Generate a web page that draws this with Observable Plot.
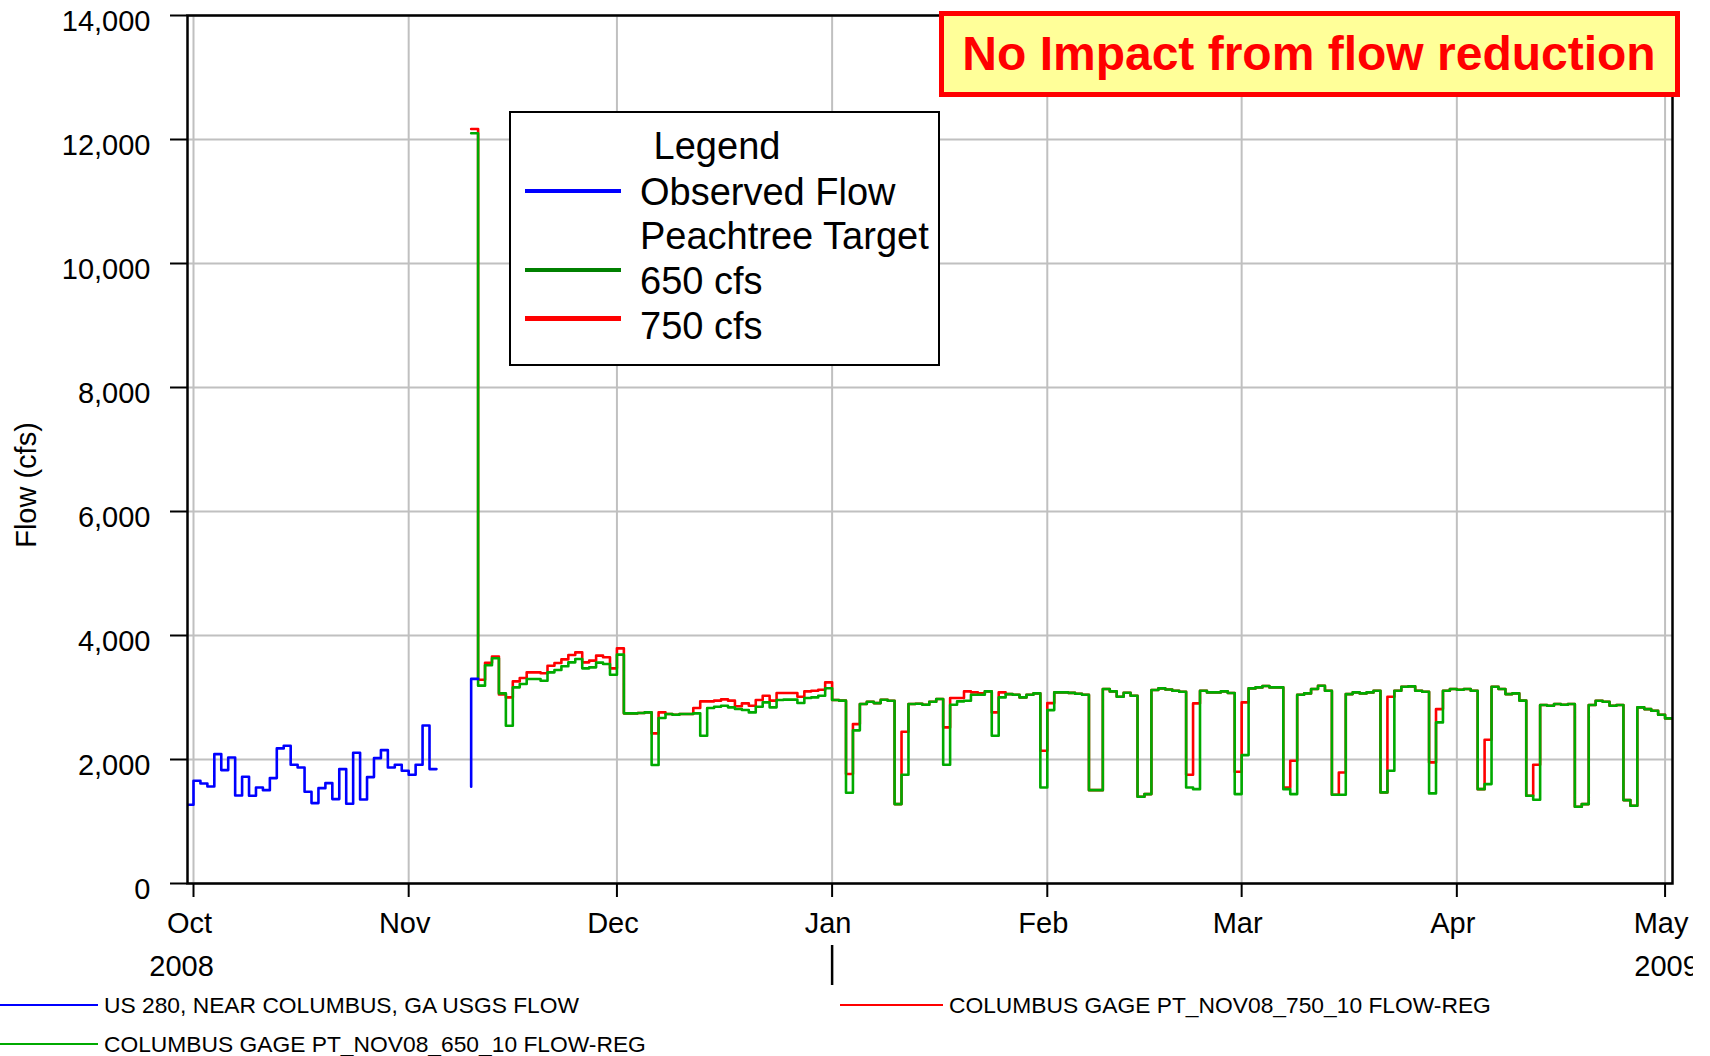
<!DOCTYPE html>
<html>
<head>
<meta charset="utf-8">
<script src="https://cdn.jsdelivr.net/npm/d3@7"></script>
<script src="https://cdn.jsdelivr.net/npm/@observablehq/plot@0.6"></script>
<style>
  body { margin: 0; background: #fff; font-family: "Liberation Sans", Arial, sans-serif; }
  #wrap { position: relative; width: 1710px; height: 1056px; overflow: hidden; background: #fff; }
  #chart { position: absolute; left: 0; top: 0; }
</style>
</head>
<body>
<div id="wrap">
  <div id="chart"></div>
</div>
<script>
// ---------- data ----------
const monthTicks = ["2008-10-01","2008-11-01","2008-12-01","2009-01-01","2009-02-01","2009-03-01","2009-04-01","2009-05-01"];
const xDomain = ["2008-09-30T03:15:00Z", "2009-05-02T01:40:00Z"];
const yearBreak = ["2009-01-01"];
const yTicks = [0, 2000, 4000, 6000, 8000, 10000, 12000, 14000];

// daily values, each dated at the end of its day (drawn as steps)
const observedStart = "2008-09-30";
const observed = [1270, 1270, 1657, 1614, 1565, 2087, 1829, 2033, 1420, 1721, 1415, 1549, 1506, 1700, 2179, 2222, 1915, 1872, 1479, 1297, 1538, 1619, 1361, 1845, 1286, 2109, 1356, 1716, 2022, 2152, 1872, 1915, 1818, 1753, 1915, 2549, 1845];
const observedLateStart = "2008-11-10";
const observedLate = [1560, 3300];

const modelStart = "2008-11-10";
const target650 = [12100, 12100,
3191, 3520, 3632, 3067, 2545, 3164, 3217, 3298, 3298, 3271,
3406, 3443, 3503, 3567, 3621, 3470, 3486, 3562, 3540, 3368,
3691, 2744, 2744, 2750, 2760, 1911, 2669, 2733, 2722, 2733,
2733, 2744, 2384, 2830, 2852, 2868, 2841, 2814, 2798, 2760,
2852, 2921, 2841, 2960, 2965, 2965, 2911, 2992, 3002, 3029,
3148, 2960, 2949, 1463, 2470, 2894, 2932, 2910, 2964, 2948,
1281, 1754, 2894, 2900, 2883, 2931, 2975, 1915, 2883, 2937,
2948, 3045, 3045, 3098, 2383, 3002, 3055, 3045, 3002, 3045,
3066, 1549, 2797, 3082, 3082, 3075, 3060, 3045, 1506, 1506,
3136, 3098, 3012, 3077, 3028, 1399, 1442, 3120, 3147, 3130,
3109, 3093, 1549, 1522, 3109, 3082, 3082, 3098, 3072, 1442,
2071, 3147, 3163, 3185, 3163, 3163, 1522, 1442, 3045, 3066,
3136, 3190, 3109, 1431, 1431, 3055, 3082, 3066, 3082, 3109,
1469, 1818, 3109, 3173, 3179, 3109, 3093, 1453, 2598, 3109,
3136, 3125, 3136, 3109, 1522, 1603, 3173, 3136, 3055, 3066,
2950, 1415, 1350, 2878, 2867, 2894, 2883, 2894, 1237, 1281,
2878, 2948, 2932, 2867, 2880, 1345, 1254, 2840, 2813, 2786,
2722, 2663];
const target750 = [12170, 12170,
3287, 3560, 3660, 3050, 3002, 3260, 3314, 3406, 3406, 3390,
3513, 3556, 3615, 3685, 3728, 3567, 3594, 3675, 3648, 3470,
3793, 2744, 2744, 2750, 2760, 2421, 2760, 2733, 2722, 2733,
2733, 2830, 2938, 2938, 2949, 2970, 2949, 2858, 2906, 2868,
2960, 3029, 2949, 3073, 3073, 3073, 3013, 3099, 3110, 3126,
3244, 2960, 2949, 1765, 2571, 2894, 2932, 2910, 2964, 2948,
1281, 2448, 2894, 2900, 2883, 2931, 2975, 2518, 2991, 2991,
3098, 3082, 3066, 3098, 2760, 3082, 3055, 3045, 3002, 3045,
3066, 2141, 2910, 3082, 3082, 3075, 3060, 3045, 1506, 1506,
3136, 3098, 3012, 3077, 3028, 1399, 1442, 3120, 3147, 3130,
3109, 3093, 1754, 2905, 3109, 3082, 3082, 3098, 3072, 1802,
2921, 3147, 3163, 3185, 3163, 3163, 1549, 1980, 3045, 3066,
3136, 3190, 3109, 1431, 1791, 3055, 3082, 3066, 3082, 3109,
1469, 3012, 3109, 3173, 3179, 3109, 3093, 1953, 2813, 3109,
3136, 3125, 3136, 3109, 1522, 2319, 3173, 3136, 3055, 3066,
2950, 1415, 1915, 2878, 2867, 2894, 2883, 2894, 1237, 1281,
2878, 2948, 2932, 2867, 2880, 1345, 1254, 2840, 2813, 2786,
2722, 2663];

const legendTitle = "Legend";
const legendItems = ["Observed Flow", "Peachtree Target", "650 cfs", "750 cfs"];
const bottomLegend = ["US 280, NEAR COLUMBUS, GA USGS FLOW", "COLUMBUS GAGE PT_NOV08_750_10 FLOW-REG", "COLUMBUS GAGE PT_NOV08_650_10 FLOW-REG"];
const banner = "No Impact from flow reduction";
const yLabel = "Flow (cfs)";

// ---------- build ----------
const utc = s => new Date(s.length > 10 ? s : s + "T00:00:00Z");
const series = (start, vals) => vals.map((v, i) => ({date: d3.utcDay.offset(utc(start), i), value: v}));
const obsA = series(observedStart, observed);
const obsB = series(observedLateStart, observedLate);
const g650 = series(modelStart, target650);
const r750 = series(modelStart, target750);
const months = monthTicks.map(utc);
const dom = xDomain.map(utc);

const FONT = "'Liberation Sans', Arial, sans-serif";
const lineOpts = {x: "date", y: "value", curve: "step-before", strokeWidth: 2.6, clip: true};

const chart = Plot.plot({
  width: 1693, height: 990,
  marginLeft: 187, marginRight: 21, marginTop: 15, marginBottom: 107,
  style: {fontFamily: FONT, fontSize: "29px", color: "black", background: "white", overflow: "hidden"},
  x: {type: "utc", domain: dom, label: null},
  y: {domain: [0, 14000], label: null},
  marks: [
    Plot.gridX(months, {stroke: "#C0C0C0", strokeOpacity: 1, strokeWidth: 2}),
    Plot.gridY(yTicks, {stroke: "#C0C0C0", strokeOpacity: 1, strokeWidth: 2}),
    Plot.lineY(r750, {...lineOpts, stroke: "#FF0000"}),
    Plot.lineY(g650, {...lineOpts, stroke: "#00AA00"}),
    Plot.lineY(obsA, {...lineOpts, stroke: "#0000FF"}),
    Plot.lineY(obsB, {...lineOpts, stroke: "#0000FF"}),
    Plot.frame({stroke: "black", strokeWidth: 2.5}),
    Plot.axisY(yTicks, {tickSize: 17, tickFormat: () => "", strokeWidth: 2, label: null}),
    Plot.axisY(yTicks, {tickSize: 0, tickPadding: 37, tickFormat: d3.format(","), dy: 6, fontSize: 29, label: null}),
    Plot.axisX(months, {tickSize: 14, tickFormat: () => "", strokeWidth: 2, label: null}),
    Plot.axisX(months, {tickSize: 0, tickPadding: 29, tickFormat: d3.utcFormat("%b"), dx: -4, fontSize: 29, label: null}),
    Plot.axisX(dom, {tickSize: 0, tickPadding: 72, tickFormat: d3.utcFormat("%Y"), dx: -6, fontSize: 29, label: null}),
    Plot.axisX(yearBreak.map(utc), {tickSize: 40, dy: 62, tickFormat: () => "", strokeWidth: 2.5, label: null})
  ]
});
chart.style.overflow = "hidden";
document.getElementById("chart").appendChild(chart);

// ---------- overlays (legend, banner, labels) ----------
const wrap = document.getElementById("wrap");
function el(tag, css, text) {
  const e = document.createElement(tag);
  e.style.cssText = css;
  if (text != null) e.textContent = text;
  wrap.appendChild(e);
  return e;
}
el("div", `position:absolute;left:26px;top:485px;transform:translate(-50%,-50%) rotate(-90deg);font:29px ${FONT};white-space:nowrap;line-height:1;`, yLabel);

// legend box
el("div", "position:absolute;left:509px;top:111px;width:431px;height:255px;box-sizing:border-box;border:2px solid #000;background:#fff;");
el("div", `position:absolute;left:717px;top:146px;transform:translate(-50%,-50%);font:38px ${FONT};line-height:1;white-space:nowrap;`, legendTitle);
const legendYs = [192, 236, 281, 326];
legendItems.forEach((t, i) => {
  el("div", `position:absolute;left:640px;top:${legendYs[i]}px;transform:translateY(-50%);font:38px ${FONT};line-height:1;white-space:nowrap;`, t);
});
[["#0000FF", 191], ["#008000", 270], ["#FF0000", 318.5]].forEach(([c, y]) => {
  el("div", `position:absolute;left:525px;top:${y - 2.25}px;width:96px;height:4.5px;background:${c};`);
});

// banner
el("div", `position:absolute;left:939px;top:11px;width:741px;height:86px;box-sizing:border-box;border:5px solid #FF0000;background:#FFFF99;`);
el("div", `position:absolute;left:1309px;top:54px;transform:translate(-50%,-50%);font:bold 48px ${FONT};color:#FF0000;line-height:1;white-space:nowrap;`, banner);

// bottom legend
const bl = [
  {c: "#0000FF", x0: 0, x1: 98, tx: 104, y: 1005, t: bottomLegend[0]},
  {c: "#FF0000", x0: 840, x1: 943, tx: 949, y: 1005, t: bottomLegend[1]},
  {c: "#00AA00", x0: 0, x1: 98, tx: 104, y: 1044, t: bottomLegend[2]}
];
bl.forEach(d => {
  el("div", `position:absolute;left:${d.x0}px;top:${d.y - 1.25}px;width:${d.x1 - d.x0}px;height:2.5px;background:${d.c};`);
  el("div", `position:absolute;left:${d.tx}px;top:${d.y}px;transform:translateY(-50%);font:22.8px ${FONT};line-height:1;white-space:nowrap;`, d.t);
});
</script>
</body>
</html>
